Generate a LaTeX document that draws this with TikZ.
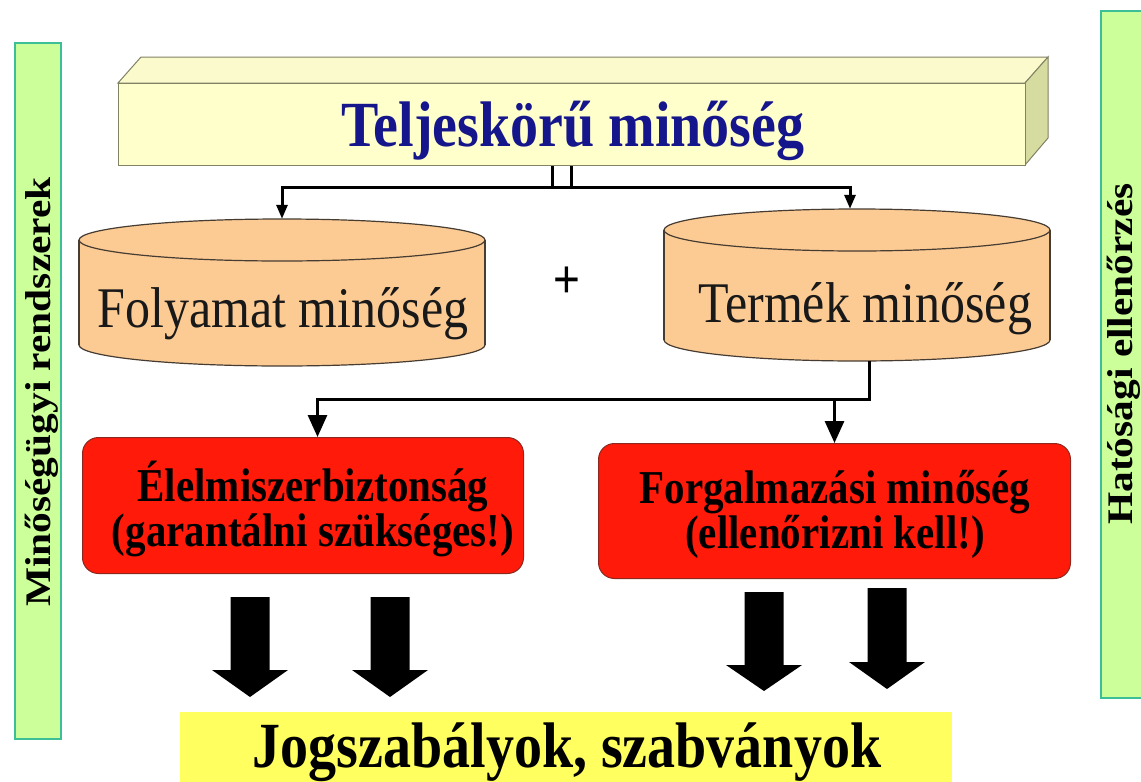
\documentclass[tikz,border=0pt]{standalone}
\usepackage{fontspec}
\setmainfont{Liberation Serif}
\newfontfamily\plusfont{Liberation Sans}
\usetikzlibrary{arrows.meta,calc}
\definecolor{titleblue}{RGB}{22,22,140}
\definecolor{boxyellow}{RGB}{255,255,204}
\definecolor{boxtopc}{RGB}{250,250,205}
\definecolor{boxside}{RGB}{214,220,160}
\definecolor{boxedge}{RGB}{130,130,100}
\definecolor{cylfill}{RGB}{252,203,148}
\definecolor{cylline}{RGB}{70,60,50}
\definecolor{redfill}{RGB}{255,26,10}
\definecolor{rededge}{RGB}{140,40,30}
\definecolor{greenfill}{RGB}{204,255,153}
\definecolor{greenedge}{RGB}{60,190,150}
\definecolor{lawyellow}{RGB}{255,255,95}
\newcommand{\tallt}[1]{\scalebox{1}[1.15]{#1}}
\newcommand{\widet}[1]{\scalebox{1.15}[1]{#1}}
\newcommand{\drawcyl}[5]{%
  \fill[cylfill] (#1-#2,#3) rectangle (#1+#2,#4);
  \fill[cylfill] (#1,#4) ellipse[x radius=#2, y radius=#5];
  \begin{scope}
    \clip (#1-#2-3,#4) rectangle (#1+#2+3,#4+#5+3);
    \draw[cylstroke] (#1,#4) ellipse[x radius=#2, y radius=#5];
  \end{scope}
  \draw[cylstroke] (#1-#2,#3) -- (#1-#2,#4) (#1+#2,#3) -- (#1+#2,#4);
  \filldraw[cylstroke, fill=cylfill] (#1,#3) ellipse[x radius=#2, y radius=#5];
}
\newcommand{\blockarrow}[4]{%
  \fill[black] (#1-19.5,#2) -- (#1+19.5,#2) -- (#1+19.5,#3) -- (#1+38,#3) -- (#1,#4) -- (#1-38,#3) -- (#1-19.5,#3) -- cycle;
}
\begin{document}
\begin{tikzpicture}[x=1pt,y=-1pt,
  cylstroke/.style={draw=cylline, line width=1.2pt},
  conn/.style={draw=black, line width=3pt, line join=miter},
  smalltip/.style={-{Triangle[length=14pt,width=11pt]}},
  bigtip/.style={-{Triangle[length=22pt,width=19pt]}},
  sidebar/.style={draw=greenedge, line width=1.5pt, fill=greenfill, inner sep=0pt},
  sidetext/.style={font=\fontsize{36}{40}\selectfont\bfseries, text=black, inner sep=0pt},
  frontbox/.style={draw=boxedge, line width=1pt, fill=boxyellow, inner sep=0pt},
  titletext/.style={font=\fontsize{56}{60}\selectfont\bfseries, text=titleblue, inner sep=0pt},
  cyltext/.style={font=\fontsize{50}{54}\selectfont, text=black!90, inner sep=0pt},
  redbox/.style={draw=rededge, line width=1pt, fill=redfill, rounded corners=16pt, inner sep=0pt},
  redtext/.style={font=\fontsize{41}{45}\selectfont\bfseries, text=black, inner sep=0pt},
  lawbox/.style={fill=lawyellow, inner sep=0pt},
  lawtext/.style={font=\fontsize{56}{60}\selectfont\bfseries, text=black, inner sep=0pt},
  plustext/.style={font=\plusfont\fontsize{46}{50}\selectfont, text=black, inner sep=0pt},
  blank/.style={inner sep=0pt, draw=none}]
\useasboundingbox (0,0) rectangle (1141,782);
\fill[white] (0,0) rectangle (1141,782);

% side bars
\node[sidebar, minimum width=46pt, minimum height=696pt, anchor=north west] (barL) at (14,42) {};
\node[sidetext, rotate=90, anchor=base] (txtL) at (50,392) {\widet{Minőségügyi rendszerek}};
\node[sidebar, minimum width=50pt, minimum height=687pt, anchor=north west] (barR) at (1100,10) {};
\node[sidetext, rotate=90, anchor=base] (txtR) at (1132,354) {\widet{Hatósági ellenőrzés}};

% top 3D box
\filldraw[fill=boxtopc, draw=boxedge, line width=1pt] (118,83) -- (141,57) -- (1048,57) -- (1025,83) -- cycle;
\filldraw[fill=boxside, draw=boxedge, line width=1pt] (1025,83) -- (1048,57) -- (1048,138) -- (1025,165) -- cycle;
\node[frontbox, minimum width=907pt, minimum height=82pt, anchor=north west] (total) at (118,83) {};
\node[titletext, anchor=base] (ttl) at (573,146) {\tallt{Teljeskörű minőség}};

% cylinders
\drawcyl{282}{203}{240}{345}{21}
\node[blank, minimum width=406pt, minimum height=146pt] (cylL) at (282,292) {};
\node[cyltext, anchor=base] (folyamat) at (283,327) {\tallt{Folyamat minőség}};
\drawcyl{857}{193}{230}{340}{21}
\node[blank, minimum width=386pt, minimum height=152pt] (cylR) at (857,285) {};
\node[cyltext, anchor=base] (termek) at (865,322) {\tallt{Termék minőség}};
\node[plustext] (plus) at (567,282) {\tallt{+}};

% connectors from top box
\coordinate (hubL) at (552,187);
\coordinate (hubR) at (571,187);
\draw[conn] (hubL |- total.south) -- (hubL) -- (hubR) -- (hubR |- total.south);
\draw[conn, smalltip] (hubL) -| (cylL.north);
\draw[conn, smalltip] (hubR) -| ([xshift=-7pt]cylR.north);

% red boxes
\node[redbox, minimum width=441pt, minimum height=136pt, anchor=north west] (redL) at (82,437) {};
\node[redbox, minimum width=472pt, minimum height=135pt, anchor=north west] (redR) at (598,443) {};
\node[redtext, anchor=base] (el1) at (313,501) {\tallt{Élelmiszerbiztonság}};
\node[redtext, anchor=base] (el2) at (313,546) {\tallt{(garantálni szükséges!)}};
\node[redtext, anchor=base] (fo1) at (835,503) {\tallt{Forgalmazási minőség}};
\node[redtext, anchor=base] (fo2) at (835,548) {\tallt{(ellenőrizni kell!)}};

% connectors from product quality
\coordinate (split) at (869,399);
\draw[conn, bigtip] (split |- cylR.south) -- (split) -| ([xshift=14.5pt]redL.north);
\draw[conn, bigtip] (split -| redR.north) -- (redR.north);

% block arrows
\blockarrow{250}{597}{670}{697}
\blockarrow{390}{597}{670}{697}
\blockarrow{764}{592}{665}{691}
\blockarrow{887}{588}{662}{689}

% laws box
\node[lawbox, minimum width=772pt, minimum height=80pt, anchor=north west] (laws) at (180,712) {};
\node[lawtext, anchor=base] (lawt) at (567,767) {\tallt{Jogszabályok, szabványok}};
\end{tikzpicture}
\end{document}
